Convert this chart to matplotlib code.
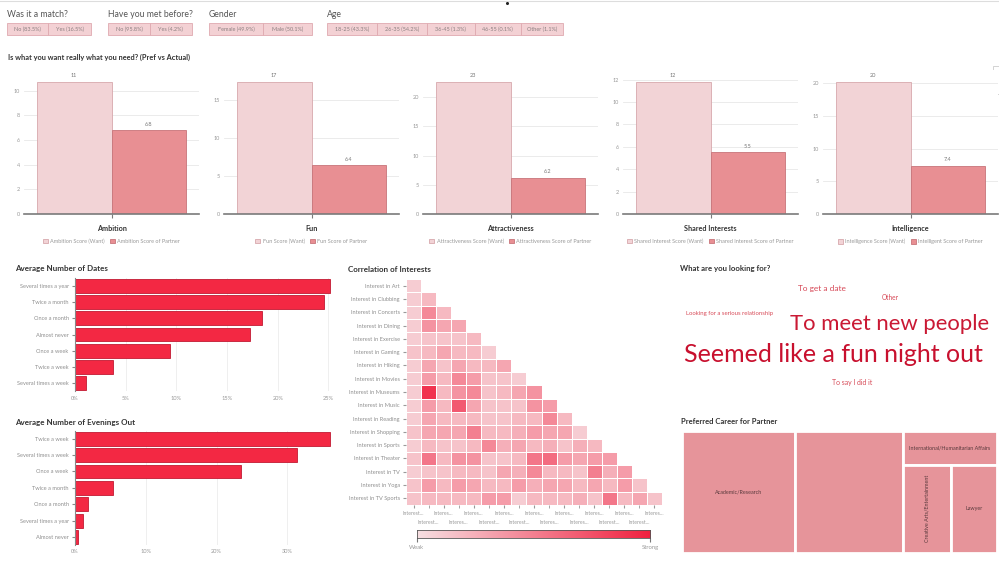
import numpy as np
import matplotlib
matplotlib.use('Agg')
import matplotlib.pyplot as plt
from matplotlib.patches import Rectangle, Patch
from matplotlib.colors import LinearSegmentedColormap, to_rgb
from matplotlib.ticker import MultipleLocator, FuncFormatter

plt.rcParams['font.family'] = ['Lato', 'DejaVu Sans']

W, H = 999, 570

# ---- data ----
match_labels = ['No (83.5%)', 'Yes (16.5%)']
met_labels = ['No (95.8%)', 'Yes (4.2%)']
gender_labels = ['Female (49.9%)', 'Male (50.1%)']
age_labels = ['18-25 (43.3%)', '26-35 (54.2%)', '36-45 (1.3%)', '46-55 (0.1%)', 'Other (1.1%)']

traits = ['Ambition', 'Fun', 'Attractiveness', 'Shared Interests', 'Intelligence']
want_scores = [10.7, 17.4, 22.6, 11.8, 20.2]
partner_scores = [6.8, 6.4, 6.2, 5.5, 7.4]
want_names = ['Ambition Score (Want)', 'Fun Score (Want)', 'Attractiveness Score (Want)',
              'Shared Interest Score (Want)', 'Intelligence Score (Want)']
partner_names = ['Ambition Score of Partner', 'Fun Score of Partner', 'Attractiveness Score of Partner',
                 'Shared Interest Score of Partner', 'Intelligent Score of Partner']

date_freq = ['Several times a year', 'Twice a month', 'Once a month', 'Almost never',
             'Once a week', 'Twice a week', 'Several times a week']
date_pct = [25.2, 24.6, 18.4, 17.3, 9.4, 3.7, 1.1]

out_freq = ['Twice a week', 'Several times a week', 'Once a week', 'Twice a month',
            'Once a month', 'Several times a year', 'Almost never']
out_pct = [36.1, 31.4, 23.5, 5.4, 1.9, 1.1, 0.4]

interests = ['Interest in Art', 'Interest in Clubbing', 'Interest in Concerts', 'Interest in Dining',
             'Interest in Exercise', 'Interest in Gaming', 'Interest in Hiking', 'Interest in Movies',
             'Interest in Museums', 'Interest in Music', 'Interest in Reading', 'Interest in Shopping',
             'Interest in Sports', 'Interest in Theater', 'Interest in TV', 'Interest in Yoga',
             'Interest in TV Sports']
col_labels = ['Interest...', 'Interest...', 'Interes...', 'Interes...', 'Interes...', 'Interest...',
              'Interes...', 'Interest...', 'Interes...', 'Interes...', 'Interes...', 'Interes...',
              'Interes...', 'Interest...', 'Interes...', 'Interest...', 'Interes...']
corr_rows = [
    [0.1],
    [0.1, 0.2],
    [0.1, 0.45, 0.2],
    [0.1, 0.4, 0.3, 0.3],
    [0.1, 0.15, 0.15, 0.15, 0.2],
    [0.15, 0.2, 0.3, 0.2, 0.2, 0.1],
    [0.1, 0.3, 0.15, 0.3, 0.2, 0.2, 0.3],
    [0.1, 0.35, 0.2, 0.45, 0.35, 0.15, 0.15, 0.1],
    [0.1, 0.9, 0.2, 0.4, 0.45, 0.15, 0.2, 0.3, 0.4],
    [0.1, 0.35, 0.2, 0.7, 0.3, 0.15, 0.15, 0.15, 0.4, 0.35],
    [0.1, 0.3, 0.2, 0.2, 0.2, 0.15, 0.15, 0.2, 0.2, 0.45, 0.2],
    [0.15, 0.3, 0.3, 0.3, 0.5, 0.2, 0.2, 0.25, 0.35, 0.3, 0.3, 0.1],
    [0.1, 0.2, 0.15, 0.15, 0.2, 0.45, 0.25, 0.3, 0.2, 0.25, 0.15, 0.25, 0.2],
    [0.15, 0.55, 0.2, 0.4, 0.4, 0.15, 0.15, 0.2, 0.55, 0.6, 0.35, 0.3, 0.35, 0.35],
    [0.1, 0.15, 0.15, 0.2, 0.2, 0.15, 0.3, 0.25, 0.45, 0.2, 0.2, 0.15, 0.5, 0.25, 0.35],
    [0.15, 0.35, 0.2, 0.35, 0.3, 0.2, 0.2, 0.35, 0.25, 0.3, 0.3, 0.2, 0.3, 0.2, 0.35, 0.15],
    [0.15, 0.2, 0.2, 0.2, 0.2, 0.35, 0.35, 0.1, 0.2, 0.2, 0.2, 0.25, 0.15, 0.55, 0.2, 0.3, 0.15],
]

goals = ['Seemed like a fun night out', 'To meet new people', 'To get a date',
         'To say I did it', 'Other', 'Looking for a serious relationship']
goal_weight = [100, 86, 17, 10, 9, 6]

careers = ['Academic/Research', '', 'International/Humanitarian Affairs',
           'Creative Arts/Entertainment', 'Lawyer']
career_share = [36.2, 34.3, 8.1, 11.0, 10.5]

# ---- helpers ----
fig = plt.figure(figsize=(W / 100, H / 100), dpi=100, facecolor='white')


def px_axes(x0, y0, x1, y1):
    return fig.add_axes([x0 / W, 1 - y1 / H, (x1 - x0) / W, (y1 - y0) / H])


ov = px_axes(0, 0, W, H)
ov.set_xlim(0, W)
ov.set_ylim(H, 0)
ov.axis('off')

TITLE = '#333333'
GREY = '#8f8f8f'

# top border and small marks
ov.plot([0, W], [0.8, 0.8], color='#dddddd', lw=0.8)
ov.plot([506.5], [3.3], marker='o', ms=1.2, color='#222222')
ov.add_patch(Rectangle((993, 66), 5.5, 28, fc='white', ec='#cccccc', lw=0.6))
ov.add_patch(Rectangle((994.8, 70), 2, 2, fc='#555555', ec='none'))
ov.add_patch(Rectangle((994.8, 86), 2, 2, fc='#555555', ec='none'))

# ---- filter chips ----
chip_groups = [
    ('Was it a match?', match_labels, [7.3, 48.3, 90.7]),
    ('Have you met before?', met_labels, [108.3, 150, 191.7]),
    ('Gender', gender_labels, [209, 263.3, 311.7]),
    ('Age', age_labels, [326.7, 376.7, 426.7, 475, 520.7, 562.7]),
]
for title, labels, edges in chip_groups:
    ov.text(edges[0], 14.3, title, fontsize=6.2, color='#555555', va='center', ha='left')
    for k, lab in enumerate(labels):
        ov.add_patch(Rectangle((edges[k], 23.3), edges[k + 1] - edges[k], 11.7,
                               fc='#f3d1d4', ec='#dfaab0', lw=0.6))
        ov.text((edges[k] + edges[k + 1]) / 2, 29.3, lab, fontsize=4, color='#8a7f80',
                ha='center', va='center')

ov.text(7.5, 57, 'Is what you want really what you need? (Pref vs Actual)', fontsize=5.3,
        fontweight='bold', color=TITLE, va='center')

# ---- pref vs actual bars ----
want_c, want_e = '#f2d3d6', '#d7a8ad'
part_c, part_e = '#e88f93', '#c7747a'
steps = [2, 5, 5, 2, 5]
lefts = [24, 224, 423, 623, 823]
for i, trait in enumerate(traits):
    ax = px_axes(lefts[i], 70, lefts[i] + 175, 214)
    vals = [want_scores[i], partner_scores[i]]
    ax.bar([-0.5, 0.5], vals, width=1, color=[want_c, part_c], edgecolor=[want_e, part_e], lw=0.6)
    for x, v in zip([-0.5, 0.5], vals):
        lab = f'{v:.0f}' if v >= 10 else f'{v:.1f}'
        ax.annotate(lab, (x, v), xytext=(0, 2.5), textcoords='offset points', ha='center',
                    va='bottom', fontsize=4, color='#777777')
    ax.set_xlim(-1.17, 1.17)
    ax.set_ylim(0, want_scores[i] * 1.09)
    ax.yaxis.set_major_locator(MultipleLocator(steps[i]))
    ax.grid(axis='y', color='#e8e8e8', lw=0.6)
    ax.set_axisbelow(True)
    for s in ['top', 'right', 'left']:
        ax.spines[s].set_visible(False)
    ax.spines['bottom'].set_color('#7a7a7a')
    ax.spines['bottom'].set_linewidth(1.2)
    ax.tick_params(axis='y', length=0, labelsize=4, labelcolor='#999999', pad=3)
    ax.set_xticks([0])
    ax.set_xticklabels([trait], fontsize=5.2, fontweight='bold', color=TITLE)
    ax.tick_params(axis='x', length=3, color='#7a7a7a', pad=5)
    handles = [Patch(fc=want_c, ec=want_e, lw=0.6, label=want_names[i]),
               Patch(fc=part_c, ec=part_e, lw=0.6, label=partner_names[i])]
    ax.legend(handles=handles, loc='center', bbox_to_anchor=(0.5, -0.19), ncol=2, fontsize=4,
              frameon=False, handlelength=0.9, handleheight=0.9, handletextpad=0.4,
              columnspacing=1.0, labelcolor='#999999')

# ---- horizontal bar charts ----


def hbars(box, cats, vals, step, title, title_y):
    ax = px_axes(*box)
    y = np.arange(len(cats))
    ax.barh(y, vals, height=0.84, color='#f32843', edgecolor='#c21a33', lw=0.6)
    ax.set_ylim(len(cats) - 0.5, -0.5)
    ax.set_xlim(0, max(vals) * 1.006)
    ax.set_yticks(y)
    ax.set_yticklabels(cats)
    ax.xaxis.set_major_locator(MultipleLocator(step))
    ax.xaxis.set_major_formatter(FuncFormatter(lambda v, p: f'{v:.0f}%'))
    ax.grid(axis='x', color='#ececec', lw=0.6)
    ax.set_axisbelow(True)
    for s in ['top', 'right', 'bottom']:
        ax.spines[s].set_visible(False)
    ax.spines['left'].set_color('#888888')
    ax.spines['left'].set_linewidth(0.8)
    ax.tick_params(axis='y', length=2.5, color='#888888', labelsize=4.1, labelcolor=GREY, pad=2)
    ax.tick_params(axis='x', length=0, labelsize=4.1, labelcolor='#999999', pad=3)
    ov.text(15, title_y, title, fontsize=5.8, fontweight='bold', color=TITLE, va='center')


hbars((75, 277.7, 332, 391.4), date_freq, date_pct, 5, 'Average Number of Dates', 269)
hbars((75, 430.5, 332, 545.2), out_freq, out_pct, 10, 'Average Number of Evenings Out', 422)

# ---- correlation heatmap ----
cmap = LinearSegmentedColormap.from_list('weak_strong', ['#f7dfe2', '#f0203f'])
n = len(interests)
M = np.full((n, n), np.nan)
for i, row in enumerate(corr_rows):
    M[i, :len(row)] = row
hx = px_axes(406, 279, 662, 505)
hx.pcolormesh(np.arange(n + 1), np.arange(n + 1), np.ma.masked_invalid(M), cmap=cmap,
              vmin=0, vmax=1, edgecolors='white', linewidth=0.6)
hx.set_xlim(0, n)
hx.set_ylim(n, 0)
hx.set_yticks(np.arange(n) + 0.5)
hx.set_yticklabels(interests)
# column labels staggered on two rows
even = np.arange(0, n, 2)
odd = np.arange(1, n, 2)
hx.set_xticks(even + 0.5)
hx.set_xticklabels([col_labels[j] for j in even])
hx.set_xticks(odd + 0.5, minor=True)
hx.set_xticklabels([col_labels[j] for j in odd], minor=True)
for s in hx.spines.values():
    s.set_visible(False)
hx.tick_params(axis='y', length=2.5, color='#999999', labelsize=4.1, labelcolor=GREY, pad=2)
hx.tick_params(axis='x', which='major', length=2.5, color='#999999', labelsize=3.7,
               labelcolor='#9a9a9a', pad=2)
hx.tick_params(axis='x', which='minor', length=2.5, color='#999999', labelsize=3.7,
               labelcolor='#9a9a9a', pad=8)
ov.text(348, 269, 'Correlation of Interests', fontsize=5.8, fontweight='bold', color=TITLE,
        va='center')

cb = px_axes(416.7, 530, 650, 538)
cb.imshow(np.linspace(0, 1, 256)[None, :], aspect='auto', cmap=cmap, extent=[0, 1, 0, 1])
cb.set_yticks([])
cb.set_xticks([0, 1])
cb.set_xticklabels(['Weak', 'Strong'])
cb.tick_params(axis='x', length=3, color='#777777', labelsize=4.2, labelcolor='#999999', pad=2)
for s in cb.spines.values():
    s.set_color('#555555')
    s.set_linewidth(0.6)

# ---- word cloud ----
ov.text(680, 269, 'What are you looking for?', fontsize=5.6, fontweight='bold', color=TITLE,
        va='center')
word_pos = [(833, 354), (890, 324), (822, 288), (852, 382), (890, 297), (730, 314)]
wmax = max(goal_weight)
c_small, c_big = np.array(to_rgb('#d9505c')), np.array(to_rgb('#c8102e'))
for word, w, (x, y) in zip(goals, goal_weight, word_pos):
    t = w / wmax
    ov.text(x, y, word, fontsize=3.5 + 0.145 * w, color=tuple(c_small + (c_big - c_small) * t),
            ha='center', va='center')

# ---- treemap ----
ov.text(680.7, 422, 'Preferred Career for Partner', fontsize=5.5, fontweight='bold', color=TITLE,
        va='center')
tm = px_axes(681.5, 431.3, 996.5, 552.7)
tm.set_xlim(0, 1)
tm.set_ylim(1, 0)
tm.axis('off')
total = sum(career_share)
w0 = career_share[0] / total
w1 = career_share[1] / total
w2 = sum(career_share[2:]) / total
h_top = career_share[2] / sum(career_share[2:])
w_cre = w2 * career_share[3] / (career_share[3] + career_share[4])
rects = [
    (0, 0, w0, 1),
    (w0, 0, w1, 1),
    (w0 + w1, 0, w2, h_top),
    (w0 + w1, h_top, w_cre, 1 - h_top),
    (w0 + w1 + w_cre, h_top, w2 - w_cre, 1 - h_top),
]
for k, (x, y, w, h) in enumerate(rects):
    tm.add_patch(Rectangle((x, y), w, h, fc='#e6949a', ec='white', lw=2))
    rot = 90 if k == 3 else 0
    tm.text(x + w / 2, y + h / 2, careers[k], fontsize=3.9, color='#5a3a3d', ha='center',
            va='center', rotation=rot)

fig.savefig('out.png', dpi=100, facecolor='white')
